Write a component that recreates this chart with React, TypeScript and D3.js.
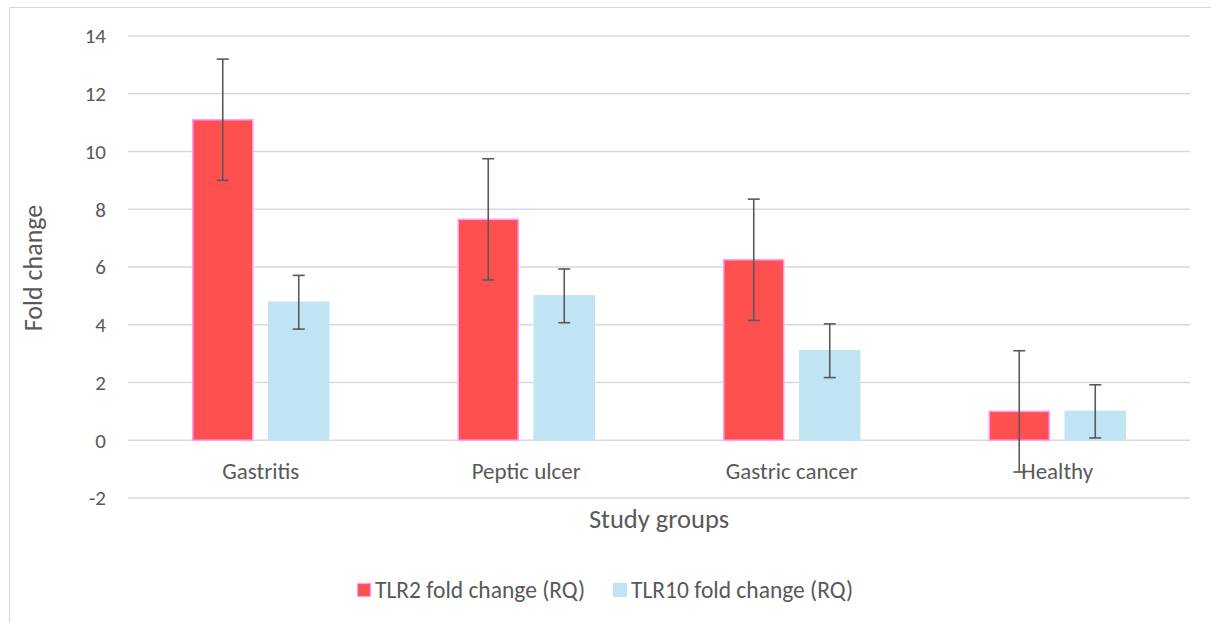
import React from 'react';
import * as d3 from 'd3';

const groups: string[] = ['Gastritis', 'Peptic ulcer', 'Gastric cancer', 'Healthy'];
const seriesNames: string[] = ['TLR2 fold change (RQ)', 'TLR10 fold change (RQ)'];
const tlr2: number[] = [11.1, 7.65, 6.25, 1.0];
const tlr2Err: number[] = [2.1, 2.1, 2.1, 2.1];
const tlr10: number[] = [4.78, 5.0, 3.1, 1.0];
const tlr10Err: number[] = [0.93, 0.93, 0.93, 0.92];
const yTicks: number[] = [-2, 0, 2, 4, 6, 8, 10, 12, 14];

const fills = ['#FF5050', '#C1E4F5'];
const strokes = ['#FF99FF', '#C1E4F5'];
const textColor = '#595959';
const font = 'Carlito, Calibri, "Open Sans", sans-serif';

const App = () => {
  const width = 1211;
  const height = 623;
  const plot = { left: 128, right: 1190, top: 36, bottom: 498 };

  const x = d3.scaleBand<string>().domain(groups).range([plot.left, plot.right]);
  const y = d3.scaleLinear().domain([-2, 14]).range([plot.bottom, plot.top]);
  const barW = 60;
  const gap = 16;

  const series = [
    { vals: tlr2, errs: tlr2Err },
    { vals: tlr10, errs: tlr10Err },
  ];

  return (
    <svg
      width={width}
      height={height}
      style={{ position: 'absolute', left: 0, top: 0, background: '#fff' }}
      fontFamily={font}
    >
      <rect x={9.5} y={7.5} width={1300} height={700} fill="#fff" stroke="#D9D9D9" />
      <g id="grid">
        {yTicks.map((t) => (
          <line key={t} x1={plot.left} x2={plot.right} y1={y(t)} y2={y(t)} stroke="#D9D9D9" strokeWidth={1.3} />
        ))}
      </g>
      <g id="y-ticks">
        {yTicks.map((t) => (
          <text key={t} x={106} y={y(t)} dy="0.35em" textAnchor="end" fontSize={21} fill={textColor}>
            {t}
          </text>
        ))}
      </g>
      <g id="bars">
        {series.map((s, si) =>
          groups.map((g, i) => {
            const cx = (x(g) as number) + x.bandwidth() / 2;
            const bx = si === 0 ? cx - gap / 2 - barW : cx + gap / 2;
            const v = s.vals[i];
            return (
              <rect
                key={`${si}-${g}`}
                x={bx}
                y={y(v)}
                width={barW}
                height={y(0) - y(v)}
                fill={fills[si]}
                stroke={strokes[si]}
                strokeWidth={1.5}
              />
            );
          })
        )}
      </g>
      <g id="errors" stroke="#595959" strokeWidth={1.6}>
        {series.map((s, si) =>
          groups.map((g, i) => {
            const cx = (x(g) as number) + x.bandwidth() / 2;
            const ex = si === 0 ? cx - gap / 2 - barW / 2 : cx + gap / 2 + barW / 2;
            const hi = y(s.vals[i] + s.errs[i]);
            const lo = y(s.vals[i] - s.errs[i]);
            return (
              <g key={`${si}-${g}`}>
                <line x1={ex} x2={ex} y1={hi} y2={lo} />
                <line x1={ex - 6} x2={ex + 6} y1={hi} y2={hi} />
                <line x1={ex - 6} x2={ex + 6} y1={lo} y2={lo} />
              </g>
            );
          })
        )}
      </g>
      <g id="x-labels">
        {groups.map((g) => (
          <text
            key={g}
            x={(x(g) as number) + x.bandwidth() / 2}
            y={471}
            dy="0.35em"
            textAnchor="middle"
            fontSize={23}
            fill={textColor}
          >
            {g}
          </text>
        ))}
      </g>
      <text x={659} y={519} dy="0.35em" textAnchor="middle" fontSize={26.5} fill={textColor}>
        Study groups
      </text>
      <text
        transform="translate(33,268) rotate(-90)"
        dy="0.35em"
        textAnchor="middle"
        fontSize={26}
        fill={textColor}
      >
        Fold change
      </text>
      <g id="legend">
        {seriesNames.map((n, i) => {
          const lx = i === 0 ? 357 : 613;
          return (
            <g key={n} transform={`translate(${lx},590)`}>
              <rect x={0.5} y={-6.5} width={13} height={13} fill={fills[i]} stroke={strokes[i]} strokeWidth={1.2} />
              <text x={18} y={0} dy="0.35em" fontSize={23.5} fill={textColor}>
                {n}
              </text>
            </g>
          );
        })}
      </g>
    </svg>
  );
};

export default App;
